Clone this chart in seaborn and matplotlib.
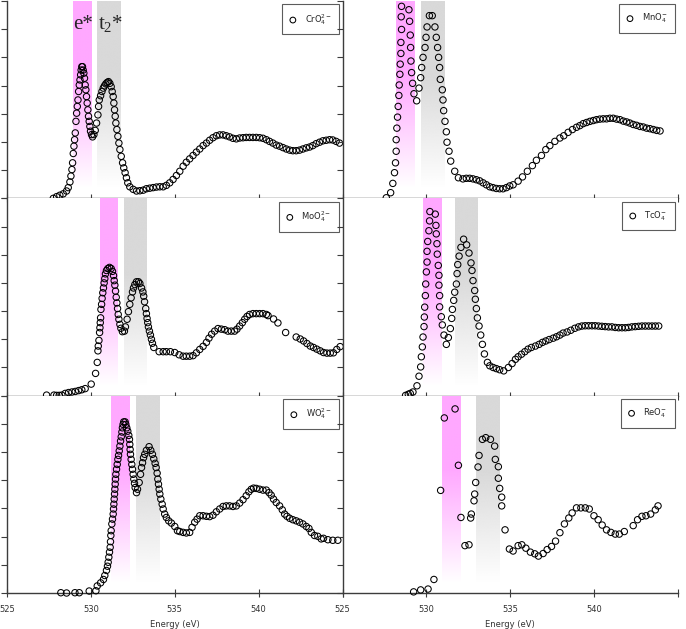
import matplotlib
matplotlib.use('Agg')
import matplotlib.pyplot as plt
import seaborn as sns
import numpy as np
from matplotlib.colors import to_rgb

# O K-edge spectra, energy (eV) and intensity (arb. units, one tick = 1)
cro4_e = [527.76, 527.96, 528.15, 528.35, 528.55, 528.65, 528.75, 528.81, 528.87, 528.91, 528.95, 528.99,
          529.03, 529.07, 529.11, 529.15, 529.19, 529.23, 529.27, 529.31, 529.35, 529.39, 529.42, 529.46,
          529.50, 529.54, 529.58, 529.62, 529.66, 529.70, 529.74, 529.78, 529.82, 529.86, 529.90, 529.94,
          529.98, 530.04, 530.10, 530.18, 530.26, 530.34, 530.42, 530.46, 530.50, 530.58, 530.66, 530.74,
          530.81, 530.89, 530.97, 531.05, 531.13, 531.21, 531.27, 531.33, 531.37, 531.41, 531.45, 531.49,
          531.55, 531.61, 531.67, 531.73, 531.81, 531.89, 531.96, 532.04, 532.12, 532.20, 532.32, 532.52,
          532.72, 532.92, 533.12, 533.31, 533.51, 533.71, 533.91, 534.11, 534.31, 534.50, 534.70, 534.90,
          535.10, 535.30, 535.50, 535.69, 535.89, 536.09, 536.29, 536.49, 536.69, 536.89, 537.08, 537.28,
          537.48, 537.68, 537.88, 538.07, 538.27, 538.47, 538.67, 538.87, 539.07, 539.26, 539.46, 539.66,
          539.86, 540.06, 540.26, 540.46, 540.65, 540.85, 541.05, 541.25, 541.45, 541.65, 541.85, 542.04,
          542.24, 542.44, 542.64, 542.84, 543.04, 543.23, 543.43, 543.63, 543.83, 544.03, 544.23, 544.42,
          544.62, 544.82]
cro4_y = [0.00, 0.06, 0.11, 0.16, 0.26, 0.38, 0.58, 0.79, 1.02, 1.26, 1.59, 1.85,
          2.08, 2.32, 2.73, 3.02, 3.26, 3.49, 3.79, 4.02, 4.20, 4.38, 4.55, 4.67,
          4.67, 4.55, 4.44, 4.26, 4.02, 3.85, 3.61, 3.38, 3.14, 2.91, 2.73, 2.55,
          2.38, 2.26, 2.18, 2.26, 2.41, 2.67, 2.96, 3.26, 3.49, 3.64, 3.79, 3.91,
          3.99, 4.06, 4.11, 4.14, 4.08, 3.96, 3.79, 3.61, 3.38, 3.14, 2.91, 2.67,
          2.44, 2.20, 1.96, 1.73, 1.49, 1.26, 1.08, 0.91, 0.73, 0.55, 0.41, 0.32,
          0.26, 0.27, 0.29, 0.34, 0.36, 0.38, 0.40, 0.41, 0.41, 0.46, 0.55, 0.67,
          0.81, 0.96, 1.14, 1.28, 1.40, 1.52, 1.64, 1.75, 1.87, 1.96, 2.06, 2.15,
          2.22, 2.25, 2.25, 2.22, 2.18, 2.13, 2.11, 2.14, 2.15, 2.16, 2.16, 2.16,
          2.16, 2.15, 2.13, 2.08, 2.02, 1.96, 1.89, 1.85, 1.80, 1.75, 1.71, 1.69,
          1.69, 1.71, 1.75, 1.79, 1.82, 1.87, 1.94, 1.99, 2.04, 2.06, 2.08, 2.07,
          2.02, 1.96]

mno4_e = [527.61, 527.87, 528.00, 528.10, 528.16, 528.20, 528.20, 528.24, 528.28, 528.32, 528.36, 528.38,
          528.42, 528.44, 528.48, 528.48, 528.52, 528.50, 528.52, 528.96, 529.00, 529.04, 529.06, 529.08,
          529.12, 529.18, 529.26, 529.42, 529.56, 529.66, 529.72, 529.80, 529.92, 529.98, 530.04, 530.18,
          530.35, 530.51, 530.59, 530.67, 530.73, 530.79, 530.83, 530.95, 530.99, 531.03, 531.11, 531.19,
          531.23, 531.35, 531.45, 531.69, 531.91, 532.18, 532.38, 532.58, 532.78, 532.98, 533.18, 533.38,
          533.58, 533.78, 533.97, 534.17, 534.37, 534.57, 534.77, 534.97, 535.17, 535.47, 535.73, 536.02,
          536.32, 536.56, 536.86, 537.12, 537.36, 537.66, 537.96, 538.19, 538.45, 538.71, 538.95, 539.15,
          539.35, 539.55, 539.75, 539.95, 540.14, 540.34, 540.54, 540.74, 540.94, 541.14, 541.34, 541.54,
          541.74, 541.94, 542.13, 542.33, 542.53, 542.73, 542.93, 543.13, 543.33, 543.53, 543.73, 543.93]
mno4_y = [0.02, 0.20, 0.53, 0.91, 1.26, 1.67, 2.08, 2.49, 2.88, 3.26, 3.65, 4.02,
          4.40, 4.76, 5.14, 5.53, 5.99, 6.44, 6.81, 6.69, 6.28, 5.79, 5.35, 4.87,
          4.46, 4.08, 3.71, 3.46, 3.91, 4.28, 4.64, 5.00, 5.35, 5.71, 6.08, 6.48,
          6.48, 6.08, 5.71, 5.35, 5.00, 4.64, 4.22, 3.85, 3.49, 3.11, 2.73, 2.36,
          1.99, 1.67, 1.32, 0.96, 0.73, 0.69, 0.71, 0.71, 0.69, 0.66, 0.62, 0.55,
          0.48, 0.41, 0.38, 0.35, 0.34, 0.34, 0.38, 0.44, 0.48, 0.61, 0.76, 0.96,
          1.16, 1.35, 1.52, 1.73, 1.87, 2.02, 2.14, 2.22, 2.34, 2.44, 2.52, 2.58,
          2.65, 2.69, 2.73, 2.76, 2.79, 2.81, 2.82, 2.82, 2.84, 2.84, 2.81, 2.79,
          2.74, 2.71, 2.67, 2.62, 2.59, 2.55, 2.53, 2.49, 2.47, 2.44, 2.41, 2.39]

moo4_e = [527.36, 527.80, 527.96, 528.11, 528.27, 528.47, 528.67, 528.87, 529.07, 529.27, 529.46, 529.66,
          530.02, 530.28, 530.38, 530.42, 530.44, 530.48, 530.52, 530.54, 530.56, 530.58, 530.60, 530.64,
          530.67, 530.71, 530.75, 530.79, 530.83, 530.87, 530.93, 531.01, 531.11, 531.21, 531.29, 531.35,
          531.39, 531.43, 531.47, 531.51, 531.55, 531.59, 531.63, 531.67, 531.73, 531.79, 531.88, 532.00,
          532.06, 532.16, 532.24, 532.32, 532.40, 532.48, 532.54, 532.62, 532.72, 532.84, 532.92, 533.02,
          533.10, 533.15, 533.20, 533.27, 533.31, 533.35, 533.39, 533.43, 533.49, 533.55, 533.61, 533.67,
          533.75, 534.07, 534.31, 534.50, 534.74, 535.00, 535.26, 535.50, 535.69, 535.89, 536.09, 536.29,
          536.49, 536.69, 536.89, 537.04, 537.20, 537.38, 537.58, 537.78, 537.98, 538.17, 538.37, 538.57,
          538.71, 538.87, 539.03, 539.17, 539.31, 539.46, 539.66, 539.86, 540.06, 540.26, 540.46, 540.56,
          540.89, 541.15, 541.61, 542.24, 542.48, 542.68, 542.88, 543.08, 543.27, 543.47, 543.67, 543.87,
          544.07, 544.27, 544.46, 544.66, 544.86]
moo4_y = [0.02, 0.02, 0.01, 0.01, 0.02, 0.08, 0.11, 0.13, 0.15, 0.18, 0.21, 0.25,
          0.41, 0.79, 1.18, 1.59, 1.76, 1.96, 2.24, 2.41, 2.59, 2.76, 3.06, 3.24,
          3.45, 3.65, 3.82, 4.00, 4.15, 4.32, 4.44, 4.51, 4.55, 4.51, 4.41, 4.26,
          4.08, 3.92, 3.71, 3.49, 3.29, 3.09, 2.88, 2.71, 2.53, 2.39, 2.27, 2.29,
          2.44, 2.71, 2.98, 3.24, 3.47, 3.68, 3.82, 3.94, 4.04, 4.04, 3.98, 3.82,
          3.68, 3.53, 3.33, 3.09, 2.91, 2.74, 2.59, 2.44, 2.29, 2.15, 2.00, 1.86,
          1.71, 1.56, 1.56, 1.56, 1.56, 1.53, 1.45, 1.40, 1.40, 1.40, 1.42, 1.52,
          1.64, 1.75, 1.89, 2.04, 2.18, 2.29, 2.38, 2.36, 2.34, 2.29, 2.29, 2.29,
          2.36, 2.47, 2.59, 2.71, 2.81, 2.88, 2.91, 2.91, 2.91, 2.91, 2.88, 2.84,
          2.72, 2.58, 2.24, 2.08, 2.01, 1.94, 1.85, 1.76, 1.71, 1.65, 1.59, 1.53,
          1.51, 1.51, 1.52, 1.64, 1.74]

tco4_e = [528.76, 528.92, 529.04, 529.20, 529.44, 529.56, 529.66, 529.70, 529.76, 529.80, 529.86, 529.88,
          529.90, 529.94, 529.96, 530.00, 530.04, 530.04, 530.08, 530.15, 530.19, 530.21, 530.53, 530.57,
          530.59, 530.63, 530.65, 530.71, 530.75, 530.75, 530.79, 530.79, 530.89, 530.95, 531.05, 531.19,
          531.31, 531.43, 531.51, 531.55, 531.63, 531.69, 531.79, 531.83, 531.87, 531.95, 532.06, 532.22,
          532.40, 532.54, 532.66, 532.72, 532.78, 532.88, 532.92, 532.98, 533.04, 533.14, 533.24, 533.34,
          533.46, 533.64, 533.78, 533.98, 534.17, 534.37, 534.61, 534.89, 535.11, 535.31, 535.47, 535.67,
          535.87, 536.06, 536.26, 536.50, 536.72, 536.92, 537.12, 537.32, 537.56, 537.76, 537.96, 538.15,
          538.39, 538.61, 538.85, 539.07, 539.27, 539.47, 539.67, 539.87, 540.06, 540.26, 540.46, 540.66,
          540.86, 541.06, 541.26, 541.46, 541.66, 541.86, 542.05, 542.25, 542.45, 542.65, 542.85, 543.05,
          543.25, 543.45, 543.65, 543.85]
tco4_y = [0.01, 0.05, 0.08, 0.13, 0.35, 0.69, 1.02, 1.38, 1.73, 2.08, 2.45, 2.79,
          3.14, 3.55, 3.96, 4.39, 4.74, 5.12, 5.47, 5.85, 6.20, 6.53, 6.44, 6.04,
          5.74, 5.39, 5.02, 4.62, 4.27, 3.92, 3.55, 3.15, 2.80, 2.51, 2.15, 1.82,
          2.06, 2.38, 2.74, 3.06, 3.38, 3.67, 3.96, 4.33, 4.65, 4.95, 5.26, 5.55,
          5.35, 5.06, 4.71, 4.44, 4.08, 3.73, 3.42, 3.09, 2.76, 2.47, 2.15, 1.82,
          1.48, 1.18, 1.06, 1.00, 0.96, 0.92, 0.88, 1.00, 1.14, 1.29, 1.38, 1.47,
          1.56, 1.65, 1.71, 1.76, 1.82, 1.89, 1.94, 1.99, 2.04, 2.09, 2.15, 2.22,
          2.26, 2.32, 2.39, 2.44, 2.47, 2.48, 2.48, 2.48, 2.48, 2.47, 2.46, 2.45,
          2.44, 2.44, 2.42, 2.41, 2.41, 2.41, 2.42, 2.44, 2.45, 2.46, 2.47, 2.47,
          2.47, 2.47, 2.47, 2.47]

wo4_e = [528.21, 528.55, 529.05, 529.31, 529.90, 530.30, 530.38, 530.58, 530.75, 530.83, 530.93, 530.99,
         531.03, 531.07, 531.11, 531.15, 531.17, 531.19, 531.21, 531.25, 531.29, 531.33, 531.35, 531.37,
         531.39, 531.41, 531.43, 531.45, 531.47, 531.49, 531.53, 531.57, 531.61, 531.65, 531.69, 531.73,
         531.77, 531.81, 531.85, 531.88, 531.92, 531.96, 532.04, 532.08, 532.14, 532.20, 532.26, 532.30,
         532.32, 532.34, 532.36, 532.40, 532.44, 532.48, 532.52, 532.56, 532.60, 532.64, 532.72, 532.78,
         532.88, 532.96, 533.02, 533.08, 533.14, 533.21, 533.31, 533.47, 533.57, 533.67, 533.75, 533.83,
         533.89, 533.95, 533.99, 534.03, 534.07, 534.11, 534.17, 534.25, 534.31, 534.40, 534.50, 534.64,
         534.80, 535.00, 535.16, 535.30, 535.50, 535.69, 535.89, 536.03, 536.19, 536.33, 536.49, 536.69,
         536.89, 537.08, 537.28, 537.48, 537.68, 537.88, 538.07, 538.27, 538.47, 538.67, 538.87, 539.07,
         539.26, 539.42, 539.56, 539.70, 539.86, 540.06, 540.26, 540.46, 540.62, 540.75, 540.89, 541.05,
         541.25, 541.41, 541.55, 541.69, 541.85, 542.04, 542.24, 542.44, 542.64, 542.84, 543.00, 543.14,
         543.33, 543.53, 543.73, 543.87, 544.13, 544.42, 544.72]
wo4_y = [0.01, 0.00, 0.01, 0.01, 0.07, 0.08, 0.25, 0.36, 0.48, 0.62, 0.80, 0.95,
         1.09, 1.27, 1.45, 1.62, 1.82, 2.04, 2.21, 2.45, 2.62, 2.80, 2.98, 3.15,
         3.33, 3.51, 3.68, 3.86, 4.04, 4.21, 4.39, 4.56, 4.74, 4.88, 5.04, 5.21,
         5.39, 5.54, 5.71, 5.86, 5.98, 6.07, 6.07, 5.98, 5.86, 5.74, 5.59, 5.45,
         5.27, 5.09, 4.92, 4.74, 4.56, 4.39, 4.21, 4.04, 3.89, 3.74, 3.56, 3.68,
         3.92, 4.21, 4.45, 4.62, 4.80, 4.92, 5.06, 5.19, 5.06, 4.92, 4.76, 4.60,
         4.45, 4.25, 4.04, 3.86, 3.68, 3.51, 3.33, 3.15, 2.98, 2.80, 2.68, 2.56,
         2.48, 2.36, 2.21, 2.18, 2.15, 2.13, 2.15, 2.33, 2.51, 2.62, 2.74, 2.74,
         2.72, 2.71, 2.76, 2.88, 2.98, 3.07, 3.09, 3.09, 3.07, 3.09, 3.19, 3.31,
         3.45, 3.59, 3.68, 3.72, 3.71, 3.68, 3.65, 3.65, 3.56, 3.47, 3.33, 3.21,
         3.09, 2.95, 2.80, 2.72, 2.65, 2.60, 2.56, 2.51, 2.45, 2.36, 2.29, 2.15,
         2.04, 2.01, 1.92, 1.94, 1.89, 1.87, 1.87]

reo4_e = [529.24, 529.66, 530.10, 530.45, 530.85, 531.07, 531.71, 531.91, 532.06, 532.30, 532.54, 532.68,
          532.64, 532.84, 532.88, 532.94, 533.08, 533.14, 533.34, 533.54, 533.82, 534.07, 534.11, 534.29,
          534.29, 534.37, 534.49, 534.49, 534.69, 534.95, 535.17, 535.47, 535.69, 535.93, 536.20, 536.46,
          536.68, 536.96, 537.20, 537.46, 537.70, 537.96, 538.23, 538.49, 538.69, 538.95, 539.21, 539.47,
          539.71, 539.99, 540.24, 540.48, 540.74, 541.00, 541.26, 541.50, 541.80, 542.33, 542.59, 542.85,
          543.09, 543.37, 543.65, 543.81]
reo4_y = [0.04, 0.11, 0.14, 0.48, 3.64, 6.21, 6.53, 4.53, 2.68, 1.68, 1.71, 2.80,
          2.66, 3.27, 3.51, 3.92, 4.47, 4.88, 5.45, 5.51, 5.45, 5.21, 4.74, 4.48,
          4.07, 3.71, 3.40, 3.09, 2.24, 1.56, 1.49, 1.68, 1.71, 1.59, 1.45, 1.39,
          1.31, 1.40, 1.54, 1.65, 1.84, 2.14, 2.45, 2.66, 2.84, 3.02, 3.02, 3.02,
          2.98, 2.74, 2.60, 2.41, 2.24, 2.15, 2.09, 2.09, 2.18, 2.39, 2.60, 2.72,
          2.74, 2.80, 2.95, 3.09]

# e* and t2* energy windows (eV) per anion
cro4_bands = [(528.95, 530.04), (530.38, 531.79)]
mno4_bands = [(528.20, 529.30), (529.66, 531.05)]
moo4_bands = [(530.54, 531.57), (531.96, 533.31)]
tco4_bands = [(529.80, 530.89), (531.69, 533.04)]
wo4_bands = [(531.19, 532.32), (532.68, 534.07)]
reo4_bands = [(530.93, 532.03), (532.94, 534.33)]

labels = ["CrO$_4^{2-}$", "MnO$_4^{-}$", "MoO$_4^{2-}$", "TcO$_4^{-}$", "WO$_4^{2-}$", "ReO$_4^{-}$"]
energies = [cro4_e, mno4_e, moo4_e, tco4_e, wo4_e, reo4_e]
intensities = [cro4_y, mno4_y, moo4_y, tco4_y, wo4_y, reo4_y]
bands = [cro4_bands, mno4_bands, moo4_bands, tco4_bands, wo4_bands, reo4_bands]

band_colors = ['#ffa8ff', '#d9d9d9']
axis_color = '#3c3c3c'
Y_MAX = 7


def add_band(ax, e0, e1, color):
    """Vertical band that fades from solid at the top to white near the bottom."""
    n = 200
    pos = np.linspace(0, 1, n)  # 0 = top, 1 = bottom
    alpha = np.clip((0.95 - pos) / (0.95 - 0.38), 0, 1)
    rgba = np.zeros((n, 1, 4))
    rgba[:, 0, :3] = to_rgb(color)
    rgba[:, 0, 3] = alpha
    ax.imshow(rgba, extent=(e0, e1, 0, Y_MAX), origin='upper', aspect='auto',
              interpolation='bilinear', zorder=0)


sns.set_theme(style='ticks')
plt.rcParams['font.family'] = ['DejaVu Sans']
plt.rcParams['mathtext.default'] = 'regular'

fig, axes = plt.subplots(3, 2, figsize=(6.86, 6.29), dpi=100, sharex=True,
                         gridspec_kw=dict(hspace=0, wspace=0))
fig.subplots_adjust(left=7 / 686, right=678 / 686, bottom=36 / 629, top=628 / 629)

for i, ax in enumerate(axes.flat):
    col = i % 2
    for (e0, e1), c in zip(bands[i], band_colors):
        add_band(ax, e0, e1, c)

    sns.scatterplot(x=energies[i], y=intensities[i], ax=ax, marker='o', s=21,
                    facecolor='none', edgecolor='black', linewidth=0.75,
                    clip_on=False, zorder=3, label=labels[i], legend=False)

    ax.set_xlim(525, 545)
    ax.set_ylim(0, Y_MAX)
    ax.set_xticks([525, 530, 535, 540, 545])
    ax.set_yticks(range(0, Y_MAX + 1))
    ax.tick_params(axis='y', direction='out', length=4, width=0.8, colors=axis_color,
                   labelleft=False)
    ax.tick_params(axis='x', direction='inout', length=6, width=0.8, colors=axis_color,
                   labelsize=6, pad=6, labelcolor='#333333')
    ax.spines['top'].set_visible(False)
    ax.spines['right'].set_visible(False)
    for side in ['left', 'bottom']:
        ax.spines[side].set_color(axis_color)
        ax.spines[side].set_linewidth(1.0)
    ax.set_ylabel('')

    leg = ax.legend(loc='upper right', fontsize=6, frameon=True, fancybox=False,
                    handlelength=0.8, handletextpad=1.0, borderpad=0.9,
                    borderaxespad=0.4, markerscale=0.9)
    leg.get_frame().set_edgecolor('#333333')
    leg.get_frame().set_linewidth(0.8)

    if i >= 4:
        ax.set_xlabel('Energy (eV)', fontsize=6, color='#333333', labelpad=4)
        if col == 0:
            ax.set_xticklabels(['525', '530', '535', '540', ''])

# band labels in the first panel
axes[0, 0].text(528.95, 6.0, 'e*', family='Liberation Serif', fontsize=15, ha='left', va='baseline')
axes[0, 0].text(530.42, 6.0, 't$_2$*', family='Liberation Serif', fontsize=15, ha='left', va='baseline')

fig.savefig('out.png', dpi=100)
plt.close(fig)
